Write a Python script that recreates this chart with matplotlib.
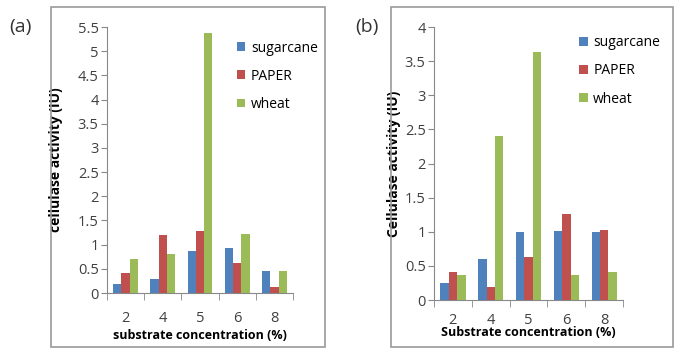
import numpy as np
import matplotlib.pyplot as plt
from matplotlib.patches import Rectangle

plt.rcParams['font.family'] = ['Open Sans', 'DejaVu Sans']

CATEGORIES = ['2', '4', '5', '6', '8']
SERIES = ['sugarcane', 'PAPER', 'wheat']
COLORS = ['#4F81BD', '#C0504D', '#9BBB59']

A_SUGARCANE = [0.18, 0.28, 0.87, 0.93, 0.45]
A_PAPER     = [0.41, 1.20, 1.29, 0.62, 0.12]
A_WHEAT     = [0.70, 0.80, 5.37, 1.23, 0.45]

B_SUGARCANE = [0.25, 0.60, 1.00, 1.01, 1.00]
B_PAPER     = [0.41, 0.19, 0.63, 1.26, 1.02]
B_WHEAT     = [0.37, 2.40, 3.63, 0.36, 0.41]

A_YTICKS = [0, 0.5, 1, 1.5, 2, 2.5, 3, 3.5, 4, 4.5, 5, 5.5]
B_YTICKS = [0, 0.5, 1, 1.5, 2, 2.5, 3, 3.5, 4]


def draw_panel(ax, values, yticks, ylabel, xlabel, xpad, xlabelpad, ylab_x, leg_anchor):
    x = np.arange(len(CATEGORIES))
    w = 1 / 4.5
    for i, (vals, col, name) in enumerate(zip(values, COLORS, SERIES)):
        ax.bar(x + (i - 1) * w, vals, width=w, color=col, label=name, zorder=3)
    ax.set_xlim(-0.5, len(CATEGORIES) - 0.5)
    ax.set_ylim(0, yticks[-1])
    ax.set_yticks(yticks)
    ax.set_yticklabels([f'{t:g}' for t in yticks], fontsize=10.5, color='#404040')
    ax.set_xticks(x)
    ax.set_xticklabels(CATEGORIES, fontsize=10.5, color='#404040')
    ax.set_xticks(np.arange(len(CATEGORIES) + 1) - 0.5, minor=True)
    ax.tick_params(axis='x', which='major', length=0, pad=xpad)
    ax.tick_params(axis='x', which='minor', length=5, direction='out', color='#888888')
    ax.tick_params(axis='y', length=4, direction='out', color='#888888', pad=2)
    for s in ['top', 'right']:
        ax.spines[s].set_visible(False)
    for s in ['left', 'bottom']:
        ax.spines[s].set_color('#888888')
    ax.set_ylabel(ylabel, fontsize=10, fontweight='bold')
    ax.yaxis.set_label_coords(ylab_x, 0.5)
    ax.set_xlabel(xlabel, fontsize=9, fontweight='bold', labelpad=xlabelpad)
    ax.legend(loc='upper left', bbox_to_anchor=leg_anchor, frameon=False,
              fontsize=10, handlelength=0.6, handleheight=0.6,
              handletextpad=0.4, labelspacing=0.95, borderaxespad=0)


fig = plt.figure(figsize=(6.85, 3.54), dpi=100)

# grey frames around each panel
fig.patches.append(Rectangle((0.0745, 0.0198), 0.400, 0.960, transform=fig.transFigure,
                             fill=False, edgecolor='#9a9a9a', linewidth=1.2))
fig.patches.append(Rectangle((0.5708, 0.0198), 0.4117, 0.960, transform=fig.transFigure,
                             fill=False, edgecolor='#9a9a9a', linewidth=1.2))

ax1 = fig.add_axes([0.1562, 0.1723, 0.2715, 0.7514])
draw_panel(ax1, [A_SUGARCANE, A_PAPER, A_WHEAT], A_YTICKS,
           'cellulase activity (IU)', 'substrate concentration (%)',
           xpad=13, xlabelpad=2, ylab_x=-0.235, leg_anchor=(0.67, 0.97))

ax2 = fig.add_axes([0.6336, 0.1525, 0.2759, 0.7712])
draw_panel(ax2, [B_SUGARCANE, B_PAPER, B_WHEAT], B_YTICKS,
           'Cellulase activity (IU)', 'Substrate concentration (%)',
           xpad=9, xlabelpad=-1, ylab_x=-0.175, leg_anchor=(0.74, 0.99))

fig.text(20 / 685, 1 - 27 / 354, '(a)', fontsize=14, ha='center', va='center', color='#333333')
fig.text(367 / 685, 1 - 27 / 354, '(b)', fontsize=14, ha='center', va='center', color='#333333')

fig.savefig('out.png', dpi=100)
